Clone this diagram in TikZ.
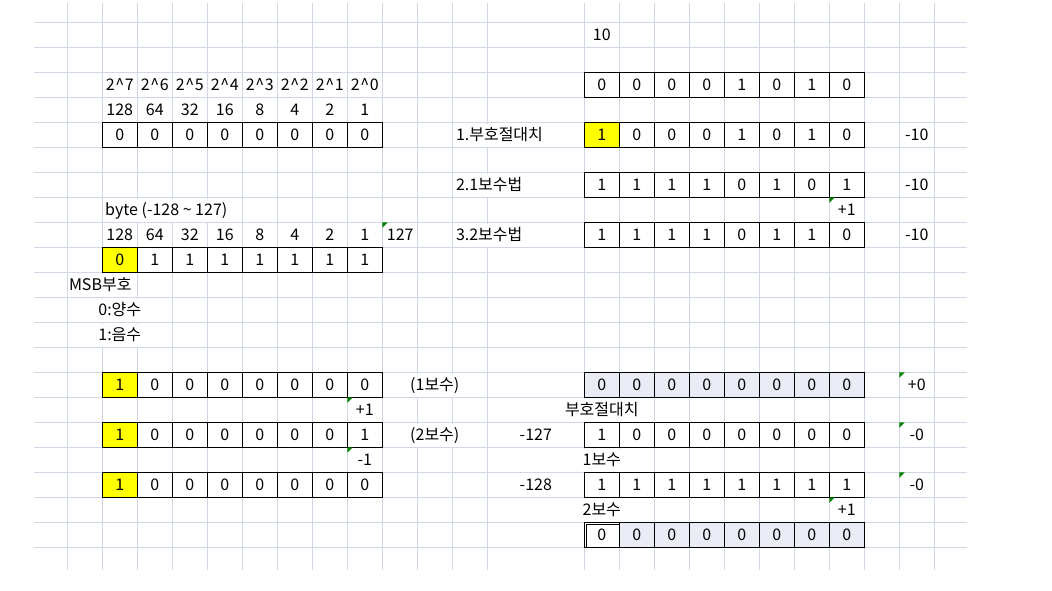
\documentclass[tikz,border=0pt]{standalone}
\usepackage{fontspec}
\setmainfont{Noto Sans CJK KR}
\definecolor{gridc}{RGB}{208,215,229}
\definecolor{hlc}{RGB}{255,255,0}
\definecolor{gryc}{RGB}{233,236,244}
\definecolor{tric}{RGB}{0,128,0}
\newcommand\mkbits[6]{%
  \foreach \b [count=\i from 0] in {#4} {%
    \ifnum\i=0 \def\cst{#5}\else\def\cst{#6}\fi
    \node[cell,\cst] (#1-\i) at ({#2+35*\i+17.5},{#3+12.5}) {\b};
  }%
}
\newcommand\cornertri[2]{\fill[tric] (#1,#2) -- ++(5.5,0) -- ++(-5.5,5.5) -- cycle;}
\newcommand\caret{\kern0.6pt\textasciicircum\kern0.6pt}
\begin{document}
\begin{tikzpicture}[x=1pt,y=-1pt,
  every node/.style={font=\fontsize{16}{19}\selectfont},
  gridln/.style={draw=gridc,line width=1pt},
  cell/.style={draw=black,line width=1pt,minimum width=35pt,minimum height=25pt,
    inner sep=0pt,anchor=center,text height=11.7pt,text depth=0pt},
  pw/.style={fill=white},
  yl/.style={fill=hlc},
  gy/.style={fill=gryc},
  num/.style={anchor=base,inner sep=0pt},
  lab/.style={anchor=base west,inner xsep=0.5pt,inner ysep=0pt,text height=16.8pt,text depth=6.3pt,fill=white},
  clab/.style={anchor=base,inner xsep=0.5pt,inner ysep=0pt,text height=16.8pt,text depth=6.3pt,fill=white}]
\useasboundingbox (0,0) rectangle (1052,590);
\fill[white] (0,0) rectangle (1052,590);
% grid
\foreach \k in {0,...,21} \draw[gridln] (33.5,{22.3+25*\k}) -- (967,{22.3+25*\k});
\foreach \k in {0,...,12} \draw[gridln] ({67.3+35*\k},3) -- ({67.3+35*\k},570);
\foreach \k in {0,...,10} \draw[gridln] ({584.3+35*\k},3) -- ({584.3+35*\k},570);
% headers
\foreach \t [count=\i from 0] in {2\caret7,2\caret6,2\caret5,2\caret4,2\caret3,2\caret2,2\caret1,2\caret0}
  \node[num] (p-\i) at ({102.3+35*\i+17.5},90.5) {\t};
\foreach \t [count=\i from 0] in {128,64,32,16,8,4,2,1}
  \node[num] (w-\i) at ({102.3+35*\i+17.5},115.5) {\t};
\foreach \t [count=\i from 0] in {128,64,32,16,8,4,2,1}
  \node[num] (v-\i) at ({102.3+35*\i+17.5},240.5) {\t};
% labels
\node[num] (ten) at (601.8,40.5) {10};
\node[lab] (l1) at (455.3,140.5) {1.부호절대치};
\node[lab] (l2) at (455.3,190.5) {2.1보수법};
\node[lab] (l3) at (455.3,240.5) {3.2보수법};
\node[num] (m1) at (916.8,140.5) {-10};
\node[num] (m2) at (916.8,190.5) {-10};
\node[num] (m3) at (916.8,240.5) {-10};
\node[lab] (byte) at (104.5,215.5) {byte (-128 \textasciitilde{} 127)};
\node[num] (p1a) at (846.8,215.5) {+1};
\node[num] (s127) at (400.3,240.5) {127};
\node[lab] (msb) at (68.3,290.5) {MSB부호};
\node[clab] (pos) at (119.8,315.5) {0:양수};
\node[clab] (neg) at (119.8,340.5) {1:음수};
\node[clab] (c1) at (434.8,390.5) {(1보수)};
\node[clab] (c2) at (434.8,440.5) {(2보수)};
\node[num] (p0) at (916.8,390.5) {+0};
\node[num] (p1b) at (364.8,415.5) {+1};
\node[clab] (sa) at (601.8,415.5) {부호절대치};
\node[num] (n127) at (535.8,440.5) {-127};
\node[num] (m0a) at (916.8,440.5) {-0};
\node[num] (m1b) at (364.8,465.5) {-1};
\node[clab] (oc) at (601.8,465.5) {1보수};
\node[num] (n128) at (535.8,490.5) {-128};
\node[num] (m0b) at (916.8,490.5) {-0};
\node[clab] (tc) at (601.8,515.5) {2보수};
\node[num] (p1c) at (846.8,515.5) {+1};
% left boxes
\mkbits{a}{102.3}{122.3}{0,0,0,0,0,0,0,0}{pw}{pw}
\mkbits{b}{102.3}{247.3}{0,1,1,1,1,1,1,1}{yl}{pw}
\mkbits{c}{102.3}{372.3}{1,0,0,0,0,0,0,0}{yl}{pw}
\mkbits{d}{102.3}{422.3}{1,0,0,0,0,0,0,1}{yl}{pw}
\mkbits{e}{102.3}{472.3}{1,0,0,0,0,0,0,0}{yl}{pw}
% right boxes
\mkbits{r}{584.3}{72.3}{0,0,0,0,1,0,1,0}{pw}{pw}
\mkbits{s}{584.3}{122.3}{1,0,0,0,1,0,1,0}{yl}{pw}
\mkbits{t}{584.3}{172.3}{1,1,1,1,0,1,0,1}{pw}{pw}
\mkbits{u}{584.3}{222.3}{1,1,1,1,0,1,1,0}{pw}{pw}
\mkbits{f}{584.3}{372.3}{0,0,0,0,0,0,0,0}{gy}{gy}
\mkbits{g}{584.3}{422.3}{1,0,0,0,0,0,0,0}{pw}{pw}
\mkbits{h}{584.3}{472.3}{1,1,1,1,1,1,1,1}{pw}{pw}
\mkbits{k}{584.3}{522.3}{0,0,0,0,0,0,0,0}{pw}{gy}
\draw[line width=1pt] ([shift={(2.2,2.2)}]k-0.north west) rectangle ([shift={(-0.8,-0.8)}]k-0.south east);
% comment markers
\cornertri{829.3}{197.3}
\cornertri{382.3}{222.3}
\cornertri{899.3}{372.3}
\cornertri{347.3}{397.3}
\cornertri{899.3}{422.3}
\cornertri{347.3}{447.3}
\cornertri{899.3}{472.3}
\cornertri{829.3}{497.3}
\end{tikzpicture}
\end{document}
